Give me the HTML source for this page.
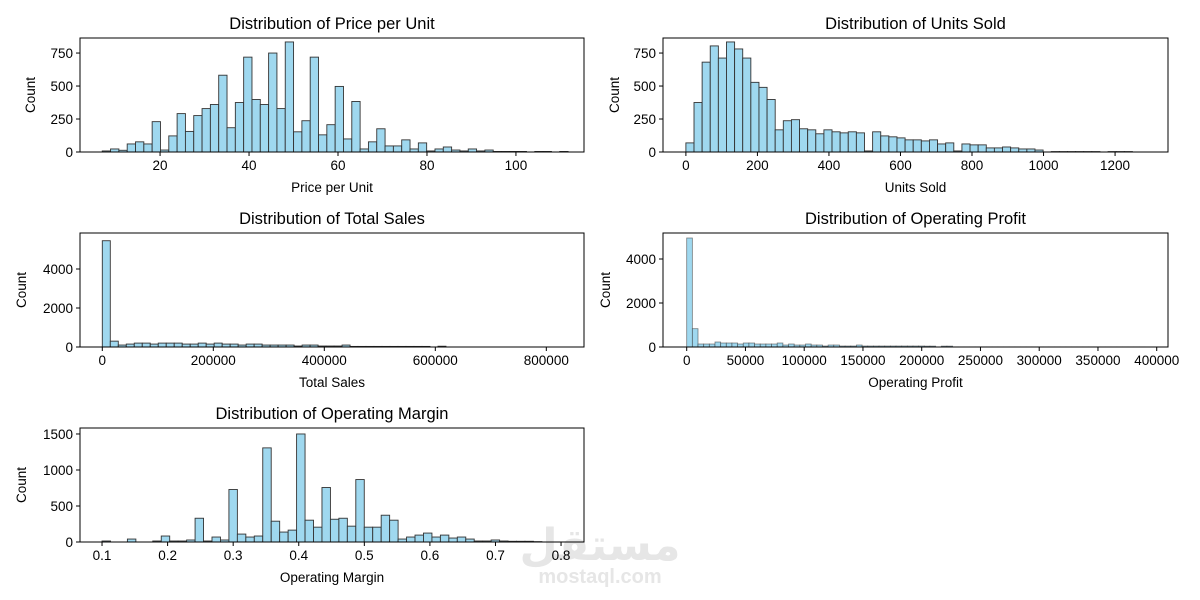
<!DOCTYPE html>
<html><head><meta charset="utf-8"><style>
html,body{margin:0;padding:0;background:#fff;}
svg{display:block;font-family:"Liberation Sans","DejaVu Sans",sans-serif;}
</style></head><body>
<svg id="fig" width="1200" height="600" viewBox="0 0 1200 600" xmlns="http://www.w3.org/2000/svg">
<text x="600" y="560" text-anchor="middle" font-size="44" font-weight="bold" fill="#e6e6e6">مستقل</text>
<text x="600" y="583" text-anchor="middle" font-size="20" font-weight="bold" fill="#e6e6e6">mostaql.com</text>
</svg>
<script>
const priceCounts=[8,23,13,61,77,61,230,15,122,291,156,276,329,360,582,184,375,719,398,360,750,329,834,153,237,719,130,207,497,99,383,23,77,176,46,46,92,23,69,8,23,38,15,8,23,8,15,4,4,4,4,0,4,4,0,4];
const priceStart=7.0, priceBin=1.87;
const unitsCounts=[69,375,681,804,712,834,781,712,528,490,398,168,237,245,176,168,138,168,153,145,153,145,8,153,122,115,107,92,92,84,92,61,69,8,61,54,54,31,31,38,31,23,23,15,0,3,3,3,3,3,3,0,3,3,3];
const unitsStart=0, unitsBin=22.7;
const salesCounts=[5450,300,100,150,200,200,150,200,200,200,150,150,200,150,200,150,150,100,150,150,100,100,100,100,50,100,100,50,50,50,100,30,30,30,30,30,30,30,30,30,30,0,40];
const salesStart=0, salesBin=14400;
const profitCounts=[4955,833,136,136,136,227,182,182,182,136,182,182,136,136,136,136,182,90,136,90,90,136,90,90,45,90,90,45,45,45,90,45,45,45,45,45,45,45,45,45,45,45,40,40,0,40,40,5,5,5,5,5,5,5,5,5,5,5,5,5,5,5,5,5,5,5,5,5,5,5,5,5,5,5,5,5,5,5,5,5,5];
const profitStart=0, profitBin=4815;
const marginCounts=[14,0,0,41,0,0,14,83,14,14,28,330,14,69,28,729,110,69,83,1307,289,138,165,1500,303,206,757,316,330,220,867,206,206,372,303,41,69,96,124,69,96,55,69,41,14,14,28,14,10,10,10,5];
const marginStart=0.1, marginBin=0.0129;
const priceTicks=[20,40,60,80,100];
const unitsTicks=[0,200,400,600,800,1000,1200];
const salesTicks=[0,200000,400000,600000,800000];
const profitTicks=[0,50000,100000,150000,200000,250000,300000,350000,400000];
const marginTicks=[0.1,0.2,0.3,0.4,0.5,0.6,0.7,0.8];
const countTicksA=[0,250,500,750];
const countTicksB=[0,2000,4000];
const countTicksC=[0,500,1000,1500];

const svg=document.getElementById('fig');
const NS='http://www.w3.org/2000/svg';
function mk(tag,attrs,parent){const e=document.createElementNS(NS,tag);for(const k in attrs)e.setAttribute(k,attrs[k]);(parent||svg).appendChild(e);return e;}

function panel(o){
  const g=mk('g',{});
  
  
  const sx=v=>o.x0+(v-o.xmin)/(o.xmax-o.xmin)*(o.x1-o.x0);
  const sy=v=>o.y1-(v/o.ymax)*(o.y1-o.y0);
  o.counts.forEach((c,i)=>{
    if(c<=0)return;
    const a=sx(o.start+i*o.bin), b=sx(o.start+(i+1)*o.bin);
    const r=mk('rect',{x:a,y:sy(c),width:b-a,height:o.y1-sy(c),fill:'#9fd8ef',stroke:'#333','stroke-width':o.sw||0.9,'stroke-opacity':o.so||1},g);
    
    
  });
  const fr=mk('rect',{x:o.x0,y:o.y0,width:o.x1-o.x0,height:o.y1-o.y0,fill:'none',stroke:'#000','stroke-width':1},g);
  
  
  o.xticks.forEach(t=>{
    const x=sx(t);
    mk('line',{x1:x,x2:x,y1:o.y1,y2:o.y1+4,stroke:'#000'},g);
    const tx=mk('text',{x:x,y:o.y1+18,'text-anchor':'middle','font-size':13.5,fill:'#000'},g);
    tx.textContent=o.fmt?o.fmt(t):t;
    
    
  });
  o.yticks.forEach(t=>{
    const y=sy(t);
    mk('line',{x1:o.x0-4,x2:o.x0,y1:y,y2:y,stroke:'#000'},g);
    const tx=mk('text',{x:o.x0-7,y:y+5,'text-anchor':'end','font-size':13.5,fill:'#000'},g);
    tx.textContent=t;
    
    
  });
  const xl=mk('text',{x:(o.x0+o.x1)/2,y:o.y1+40,'text-anchor':'middle','font-size':13.5,fill:'#000'},g);
  xl.textContent=o.xlabel;
  
  
  const yx=o.ylx, yy=(o.y0+o.y1)/2;
  const yl=mk('text',{x:yx,y:yy,'text-anchor':'middle','font-size':13.5,fill:'#000',transform:`rotate(-90 ${yx} ${yy})`},g);
  yl.textContent='Count';
  
  
  const ti=mk('text',{x:(o.x0+o.x1)/2,y:o.y0-9,'text-anchor':'middle','font-size':16.5,fill:'#000'},g);
  ti.textContent='Distribution of '+o.xlabel;
  
  
}

panel({key:'price',x0:80,x1:584,y0:38,y1:152,xmin:2.0,xmax:115.3,ymax:864,counts:priceCounts,start:priceStart,bin:priceBin,xticks:priceTicks,yticks:countTicksA,xlabel:'Price per Unit',ylx:35});
panel({key:'units',x0:663,x1:1168,y0:38,y1:152,xmin:-64,xmax:1348,ymax:864,counts:unitsCounts,start:unitsStart,bin:unitsBin,xticks:unitsTicks,yticks:countTicksA,xlabel:'Units Sold',ylx:619});
panel({key:'sales',x0:80,x1:584,y0:233,y1:347,xmin:-40180,xmax:867900,ymax:5846,counts:salesCounts,start:salesStart,bin:salesBin,xticks:salesTicks,yticks:countTicksB,xlabel:'Total Sales',ylx:26});
panel({key:'profit',x0:663,x1:1168,y0:233,y1:347,xmin:-20170,xmax:409600,ymax:5182,counts:profitCounts,start:profitStart,bin:profitBin,xticks:profitTicks,yticks:countTicksB,xlabel:'Operating Profit',ylx:610,sw:0.8,so:0.6});
panel({key:'margin',x0:80,x1:584,y0:428,y1:542,xmin:0.0664,xmax:0.835,ymax:1583,counts:marginCounts,start:marginStart,bin:marginBin,xticks:marginTicks,yticks:countTicksC,xlabel:'Operating Margin',ylx:26,fmt:t=>t.toFixed(1)});
</script>
</body></html>
